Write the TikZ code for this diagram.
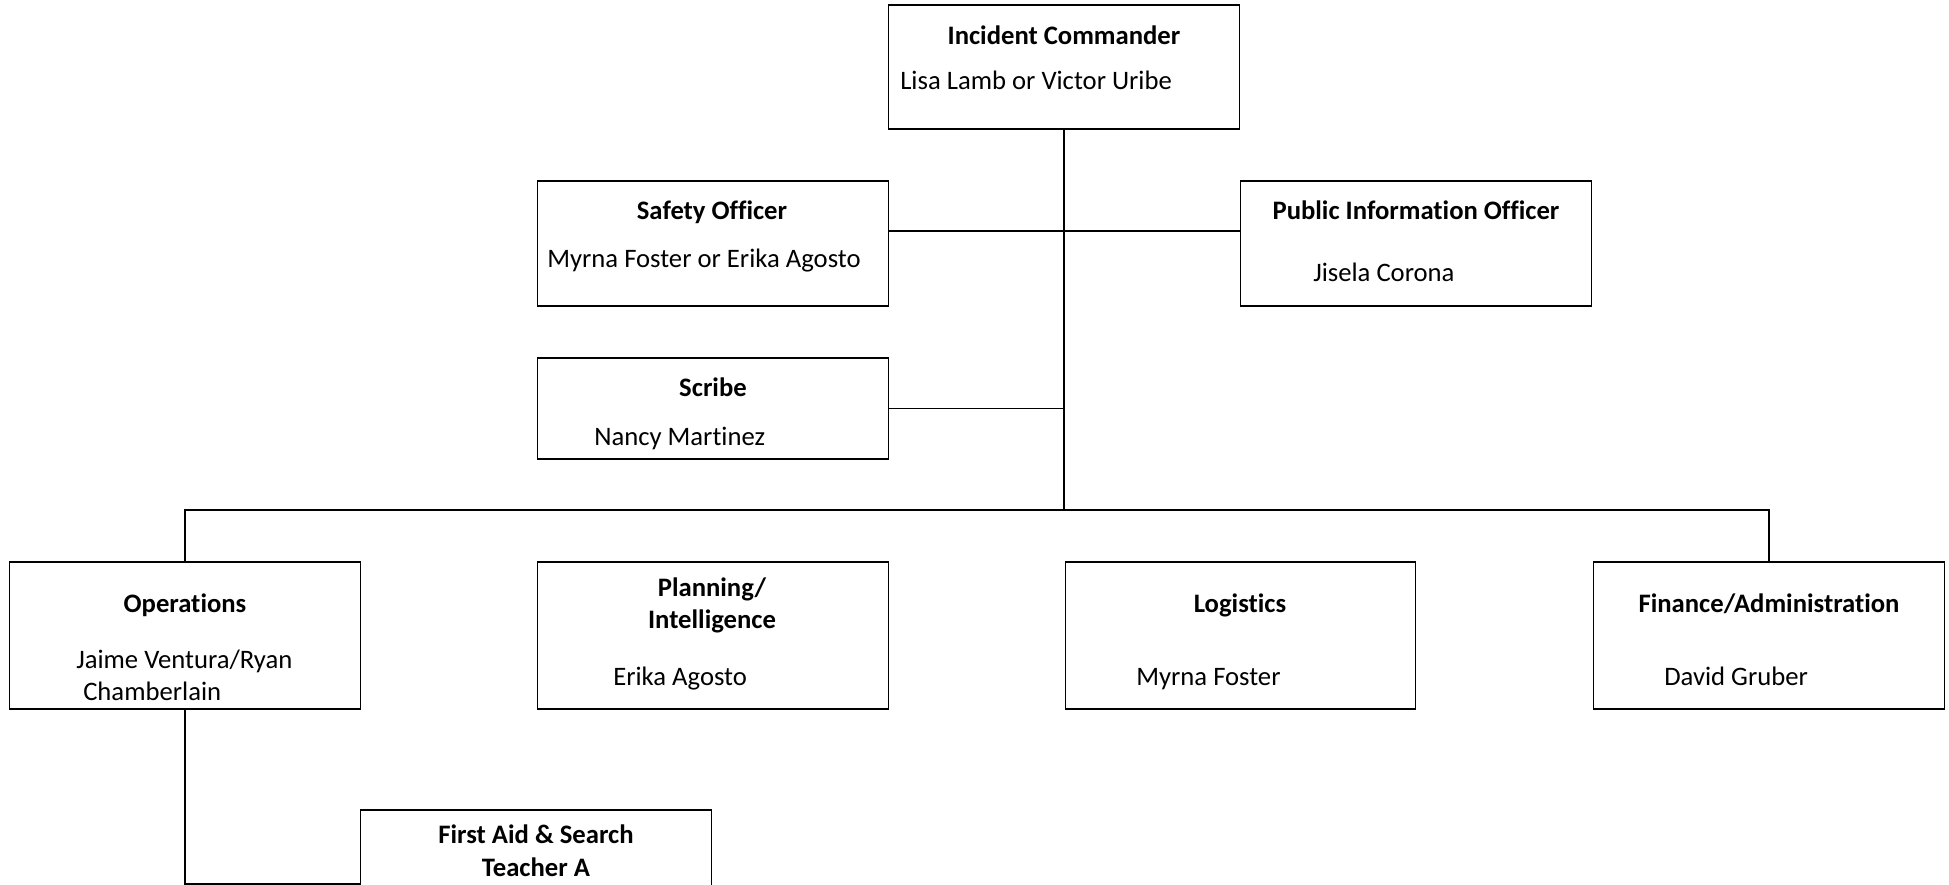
\documentclass[tikz,border=0pt]{standalone}
\usepackage{fontspec}
\setmainfont{Carlito}[Ligatures={NoCommon}]
\begin{document}
\begin{tikzpicture}[x=0.75pt,y=-0.75pt,
  box/.style={draw,line width=0.8pt,inner sep=0pt,minimum width=263pt},
  conn/.style={line width=0.8pt},
  ttl/.style={font=\fontsize{20}{24}\selectfont\bfseries,inner sep=0pt,anchor=base},
  nm/.style={font=\fontsize{20}{24}\selectfont,inner sep=0pt,anchor=base west}]
\path[use as bounding box,clip] (0,0) rectangle (1949,885);
\fill[white] (0,0) rectangle (1949,885);
% boxes
\node[box,minimum height=93pt] (ic) at (1064,67) {};
\node[box,minimum height=93.75pt] (safety) at (713,243.5) {};
\node[box,minimum height=93.75pt] (pio) at (1416,243.5) {};
\node[box,minimum height=75.75pt] (scribe) at (713,408.5) {};
\node[box,minimum height=110.25pt] (ops) at (185,635.5) {};
\node[box,minimum height=110.25pt] (plan) at (713,635.5) {};
\node[box,minimum height=110.25pt] (log) at (1240.5,635.5) {};
\node[box,minimum height=110.25pt] (fin) at (1769,635.5) {};
\node[box,minimum height=112.5pt] (fa) at (536,885) {};
% texts
\node[ttl] (ict) at (1064,44) {Incident Commander};
\node[nm] (icn) at (900,89) {Lisa Lamb or Victor Uribe};
\node[ttl] (sat) at (712,219) {Safety Officer};
\node[nm] (san) at (547,267) {Myrna Foster or Erika Agosto};
\node[ttl] (piot) at (1416,219) {Public Information Officer};
\node[nm] (pion) at (1313,281) {Jisela Corona};
\node[ttl] (sct) at (713,396) {Scribe};
\node[nm] (scn) at (594,445) {Nancy Martinez};
\node[ttl] (opt) at (185,612) {Operations};
\node[nm] (opn1) at (76,668) {Jaime Ventura/Ryan};
\node[nm] (opn2) at (83,700) {Chamberlain};
\node[ttl] (plt1) at (712,596) {Planning/};
\node[ttl] (plt2) at (712,628) {Intelligence};
\node[nm] (pln) at (613,685) {Erika Agosto};
\node[ttl] (lot) at (1240,612) {Logistics};
\node[nm] (lon) at (1136,685) {Myrna Foster};
\node[ttl] (fit) at (1769,612) {Finance/Administration};
\node[nm] (fin2) at (1664,685) {David Gruber};
\node[ttl] (fat1) at (536,843) {First Aid \& Search};
\node[ttl] (fat2) at (536,876) {Teacher A};
% junctions
\coordinate (j1) at (1064,231);
\coordinate (bus) at (1064,510);
\coordinate (faj) at (360,884);
% connectors
\draw[conn] (ic.south) -- (bus);
\draw[conn] (safety.east |- j1) -- (pio.west |- j1);
\draw[conn] (scribe.east) -- (scribe.east -| bus);
\draw[conn] (ops.north) |- (bus) -| (fin.north);
\draw[conn] (ops.south) |- (faj);
\end{tikzpicture}
\end{document}
